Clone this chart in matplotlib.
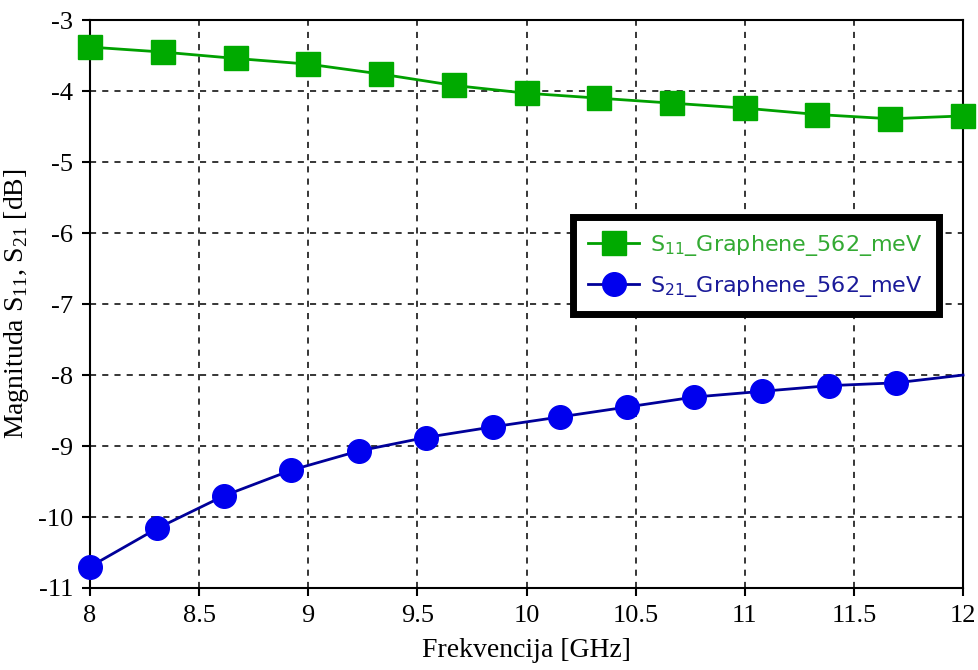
import matplotlib.pyplot as plt
import numpy as np

plt.rcParams['mathtext.fontset'] = 'custom'
plt.rcParams['mathtext.rm'] = 'Liberation Serif'
plt.rcParams['mathtext.sf'] = 'DejaVu Sans'
plt.rcParams['axes.unicode_minus'] = False

# S11 (green squares)
f_s11 = [8.0, 8.333, 8.667, 9.0, 9.333, 9.667, 10.0, 10.333, 10.667, 11.0, 11.333, 11.667, 12.0]
s11 = [-3.38, -3.45, -3.54, -3.62, -3.76, -3.92, -4.03, -4.10, -4.17, -4.24, -4.33, -4.39, -4.35]

# S21 (blue circles), last point has no marker
f_s21 = [8.0, 8.308, 8.615, 8.923, 9.231, 9.538, 9.846, 10.154, 10.462, 10.769, 11.077, 11.385, 11.692, 12.0]
s21 = [-10.70, -10.16, -9.70, -9.34, -9.07, -8.88, -8.73, -8.59, -8.45, -8.31, -8.23, -8.15, -8.11, -8.00]

xticks = [8, 8.5, 9, 9.5, 10, 10.5, 11, 11.5, 12]
xticklabels = ['8', '8.5', '9', '9.5', '10', '10.5', '11', '11.5', '12']
yticks = [-11, -10, -9, -8, -7, -6, -5, -4, -3]

fig = plt.figure(figsize=(9.79, 6.70), dpi=100)
ax = fig.add_axes([0.0919, 0.1224, 0.8918, 0.8476])

ax.plot(f_s11, s11, color='#00a000', lw=2, marker='s', ms=17,
        mfc='#00aa00', mec='#00aa00', label=r'S$_{\mathsf{11}}$_Graphene_562_meV', clip_on=False, zorder=3)
ax.plot(f_s21, s21, color='#000099', lw=2, marker='o', ms=17,
        mfc='#0000ee', mec='#0000ee', markevery=list(range(13)),
        label=r'S$_{\mathsf{21}}$_Graphene_562_meV', clip_on=False, zorder=3)

ax.set_xlim(8, 12)
ax.set_ylim(-11, -3)
ax.set_xticks(xticks)
ax.set_xticklabels(xticklabels)
ax.set_yticks(yticks)
ax.grid(True, color='black', linestyle=(0, (4, 4)), linewidth=1.1)
ax.tick_params(direction='out', length=6, width=1.5, labelsize=19, pad=6)
for lab in ax.get_xticklabels() + ax.get_yticklabels():
    lab.set_fontfamily('Liberation Serif')
for sp in ax.spines.values():
    sp.set_linewidth(1.5)

ax.set_xlabel('Frekvencija [GHz]', fontsize=20, family='Liberation Serif', labelpad=8)
ax.set_ylabel(r'Magnituda S$_{11}$, S$_{21}$ [dB]', fontsize=20, family='Liberation Serif', labelpad=5)

leg = ax.legend(loc='upper left', bbox_to_anchor=(0.54, 0.672), fontsize=16,
                frameon=True, fancybox=False, framealpha=1, edgecolor='black',
                borderpad=0.7, handlelength=2.3, labelspacing=0.7, handletextpad=0.5)
leg.get_frame().set_linewidth(5)
leg.get_texts()[0].set_color('#33aa33')
leg.get_texts()[1].set_color('#1a1a99')

fig.savefig('out.png', dpi=100)
